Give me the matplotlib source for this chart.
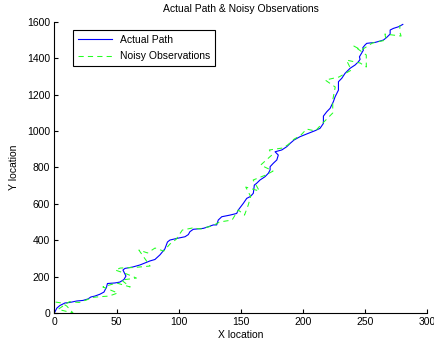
import numpy as np
import matplotlib
matplotlib.use('Agg')
import matplotlib.pyplot as plt

plt.rcParams['font.family'] = ['Liberation Sans', 'DejaVu Sans']

# actual path
path_x = [0, 2.0, 4.4, 8.5, 12.5, 18.1, 23.0, 27.0, 29.4, 32.6, 36.6, 39.9, 42.0, 42.7,
          48.7, 52.7, 56.0, 57.6, 55.2, 56.8, 63.2, 68.9, 76.9, 80.9, 84.9, 88.9, 91.0,
          93.0, 98.7, 105.1, 107.8, 109.1, 111.8, 119.8, 123.9, 127.9, 130.6, 131.9, 134.7,
          141.3, 146.7, 148.0, 152.1, 154.8, 157.4, 158.8, 160.1, 160.9, 162.8, 165.5,
          169.5, 172.2, 173.6, 173.6, 176.2, 179.0, 180.2, 177.6, 183.0, 187.0, 189.7,
          192.9, 197.7, 203.1, 209.8, 213.8, 216.5, 216.5, 219.2, 221.9, 224.5, 225.9,
          228.6, 228.6, 231.3, 233.9, 238.0, 242.0, 244.7, 246.0, 245.5, 247.4, 248.7,
          248.2, 250.0, 251.4, 258.1, 264.8, 267.5, 270.2, 270.2, 272.8, 276.9, 280.4]
path_y = [0, 27, 41, 55, 58, 66, 69, 77, 88, 93, 103, 115, 143, 162,
          165, 170, 184, 203, 236, 245, 253, 264, 286, 294, 319, 352, 390,
          401, 410, 419, 431, 447, 460, 465, 474, 484, 484, 511, 529,
          538, 547, 566, 603, 630, 639, 648, 658, 703, 713, 731,
          749, 768, 786, 804, 823, 841, 868, 886, 896, 914, 932,
          951, 969, 984, 1002, 1015, 1042, 1082, 1106, 1125, 1161, 1188,
          1225, 1271, 1290, 1317, 1345, 1363, 1381, 1394, 1408, 1430, 1445,
          1458, 1473, 1482, 1487, 1500, 1515, 1533, 1555, 1564, 1573, 1586]

# noisy observations (estimated)
obs_x = [1, 6, 10, 15, 3, 12, 20, 26, 30, 34, 44, 51, 39, 50, 61, 54, 66, 58, 49, 53,
         64, 77, 68, 75, 81, 88, 93, 98, 103, 111, 118, 122, 127, 133, 143, 148, 153,
         156, 158, 154, 165, 160, 170, 176, 166, 175, 173, 184, 188, 193, 198, 203,
         210, 214, 224, 224, 226, 218, 229, 239, 235, 246, 251, 251, 241, 247, 256,
         267, 266, 279, 278, 278]
obs_y = [60, 55, 38, 0, 20, 62, 58, 72, 85, 88, 93, 110, 143, 165, 143, 181, 192, 215,
         236, 247, 250, 258, 346, 330, 357, 340, 379, 405, 456, 467, 462, 470, 478,
         500, 511, 566, 538, 593, 640, 692, 670, 731, 758, 780, 813, 868, 896, 907,
         925, 956, 975, 1011, 1000, 1030, 1099, 1170, 1242, 1280, 1297, 1335, 1390,
         1374, 1352, 1418, 1467, 1445, 1484, 1500, 1533, 1522, 1544, 1582]

fig = plt.figure(figsize=(4.35, 3.47), dpi=100)
ax = fig.add_axes([0.125, 0.098, 0.857, 0.839])
ax.plot(path_x, path_y, color='#0000ff', lw=0.8, label='Actual Path')
ax.plot(obs_x, obs_y, color='#22ff22', lw=0.75, ls=(0, (5, 4)), label='Noisy Observations')

ax.set_xlim(0, 300)
ax.set_ylim(0, 1600)
ax.set_xticks(np.arange(0, 301, 50))
ax.set_yticks(np.arange(0, 1601, 200))
ax.spines['top'].set_visible(False)
ax.spines['right'].set_visible(False)
ax.spines['left'].set_linewidth(0.8)
ax.spines['bottom'].set_linewidth(0.8)
ax.tick_params(direction='in', length=3, width=0.8, labelsize=7.5, pad=3)
ax.set_title('Actual Path & Noisy Observations', fontsize=7.5, pad=7)
ax.set_xlabel('X location', fontsize=7.5, labelpad=2)
ax.set_ylabel('Y location', fontsize=7.5, labelpad=6)

leg = ax.legend(loc='upper left', bbox_to_anchor=(0.05, 0.973), borderaxespad=0,
                fontsize=7.5, fancybox=False, framealpha=1, handlelength=3.2,
                edgecolor='black', borderpad=0.5, labelspacing=0.6)
leg.get_frame().set_linewidth(0.8)

plt.savefig('out.png', dpi=100)
